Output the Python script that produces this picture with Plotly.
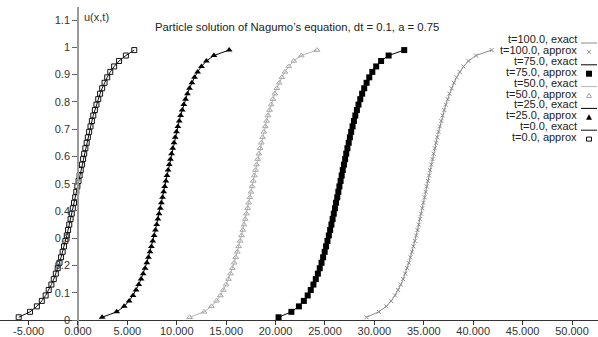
import plotly.graph_objects as go

# ---------------- data ----------------
u_levels = [0.01, 0.03, 0.05, 0.07, 0.09, 0.11, 0.13, 0.15, 0.17, 0.19,
            0.21, 0.23, 0.25, 0.27, 0.29, 0.31, 0.33, 0.35, 0.37, 0.39,
            0.41, 0.43, 0.45, 0.47, 0.49, 0.51, 0.53, 0.55, 0.57, 0.59,
            0.61, 0.63, 0.65, 0.67, 0.69, 0.71, 0.73, 0.75, 0.77, 0.79,
            0.81, 0.83, 0.85, 0.87, 0.89, 0.91, 0.93, 0.95, 0.97, 0.99]

x_t0 = [-6.00, -4.85, -4.16, -3.66, -3.27, -2.96, -2.69, -2.45, -2.24, -2.05,
        -1.87, -1.71, -1.55, -1.41, -1.27, -1.13, -1.00, -0.88, -0.75, -0.63,
        -0.52, -0.40, -0.28, -0.17, -0.06, 0.06, 0.17, 0.28, 0.40, 0.52,
        0.63, 0.75, 0.88, 1.00, 1.13, 1.27, 1.41, 1.55, 1.71, 1.87,
        2.05, 2.24, 2.45, 2.69, 2.96, 3.27, 3.66, 4.16, 4.85, 5.70]

x_t25 = [2.45, 3.92, 4.68, 5.18, 5.57, 5.88, 6.15, 6.39, 6.60, 6.79,
         6.97, 7.13, 7.29, 7.43, 7.57, 7.71, 7.84, 7.97, 8.09, 8.21,
         8.33, 8.44, 8.56, 8.67, 8.78, 8.90, 9.01, 9.12, 9.24, 9.36,
         9.47, 9.59, 9.72, 9.84, 9.97, 10.11, 10.25, 10.39, 10.55, 10.71,
         10.89, 11.08, 11.29, 11.53, 11.80, 12.11, 12.50, 13.00, 13.76, 15.30]

x_t50 = [11.30, 12.76, 13.52, 14.02, 14.41, 14.72, 14.99, 15.23, 15.44, 15.63,
         15.81, 15.97, 16.13, 16.27, 16.41, 16.55, 16.68, 16.81, 16.93, 17.05,
         17.17, 17.28, 17.40, 17.51, 17.62, 17.74, 17.85, 17.96, 18.08, 18.20,
         18.31, 18.43, 18.56, 18.68, 18.81, 18.95, 19.09, 19.23, 19.39, 19.55,
         19.73, 19.92, 20.13, 20.37, 20.64, 20.95, 21.34, 21.84, 22.60, 24.18]

x_t75 = [20.30, 21.60, 22.36, 22.86, 23.25, 23.56, 23.83, 24.07, 24.28, 24.47,
         24.65, 24.81, 24.97, 25.11, 25.25, 25.39, 25.52, 25.65, 25.77, 25.89,
         26.01, 26.12, 26.24, 26.35, 26.46, 26.58, 26.69, 26.80, 26.92, 27.04,
         27.15, 27.27, 27.40, 27.52, 27.65, 27.79, 27.93, 28.07, 28.23, 28.39,
         28.57, 28.76, 28.97, 29.21, 29.48, 29.79, 30.18, 30.68, 31.44, 33.02]

x_t100 = [29.20, 30.44, 31.20, 31.70, 32.09, 32.40, 32.67, 32.91, 33.12, 33.31,
          33.49, 33.65, 33.81, 33.95, 34.09, 34.23, 34.36, 34.49, 34.61, 34.73,
          34.85, 34.96, 35.08, 35.19, 35.30, 35.42, 35.53, 35.64, 35.76, 35.88,
          35.99, 36.11, 36.24, 36.36, 36.49, 36.63, 36.77, 36.91, 37.07, 37.23,
          37.41, 37.60, 37.81, 38.05, 38.32, 38.63, 39.02, 39.52, 40.28, 41.86]

x_tickvals = [-5, 0, 5, 10, 15, 20, 25, 30, 35, 40, 45, 50]
x_ticktext = ["-5.000", "0.000", "5.000", "10.000", "15.000", "20.000",
              "25.000", "30.000", "35.000", "40.000", "45.000", "50.000"]
y_tickvals = [0, 0.1, 0.2, 0.3, 0.4, 0.5, 0.6, 0.7, 0.8, 0.9, 1.0, 1.1]
y_ticktext = ["0", "0.1", "0.2", "0.3", "0.4", "0.5", "0.6", "0.7", "0.8", "0.9", "1", "1.1"]

legend_labels = ["t=100.0, exact", "t=100.0, approx", "t=75.0, exact", "t=75.0, approx",
                 "t=50.0, exact", "t=50.0, approx", "t=25.0, exact", "t=25.0, approx",
                 "t=0.0, exact", "t=0.0, approx"]

# ---------------- styles ----------------
W, H = 598, 337
MT, MB = 7, 5
PH = H - MT - MB
FONT = "Liberation Sans, Arial, sans-serif"

series = [
    # (x, line colour, marker symbol, marker size, marker colour, marker line width)
    (x_t100, "#8c8c8c", "x-thin", 4, "#8c8c8c", 1),
    (x_t75, "#000000", "square", 6, "#000000", 0),
    (x_t50, "#b4b4b4", "triangle-up-open", 5, "#a8a8a8", 1),
    (x_t25, "#000000", "triangle-up", 6, "#000000", 0),
    (x_t0, "#111111", "square-open", 5, "#111111", 1),
]

fig = go.Figure()
for xs, lc, sym, sz, mc, mlw in series:
    fig.add_trace(go.Scatter(x=xs, y=u_levels, mode="lines",
                             line=dict(color=lc, width=1), showlegend=False,
                             hoverinfo="skip"))
for xs, lc, sym, sz, mc, mlw in series:
    fig.add_trace(go.Scatter(x=xs, y=u_levels, mode="markers",
                             marker=dict(symbol=sym, size=sz, color=mc,
                                         line=dict(color=mc, width=mlw)),
                             showlegend=False))

y_lo, y_hi = -0.044, 1.148
x_lo, x_hi = -7.89, 52.63

xaxis_cfg = dict(range=[x_lo, x_hi], anchor="free",
                 position=(0 - y_lo) / (y_hi - y_lo),
                 showgrid=False, zeroline=False, showline=True,
                 linecolor="#333333", linewidth=1,
                 ticks="outside", ticklen=4, tickcolor="#333333",
                 tickvals=x_tickvals, ticktext=x_ticktext,
                 tickfont=dict(size=11, color="#333333"), automargin=False)

fig.update_layout(
    width=W, height=H,
    margin=dict(l=0, r=0, t=MT, b=MB, pad=0),
    paper_bgcolor="white", plot_bgcolor="white",
    font=dict(family=FONT, size=11, color="#333333"),
    showlegend=False,
    xaxis=xaxis_cfg,
    yaxis=dict(range=[y_lo, y_hi], anchor="free",
               position=(0 - x_lo) / (x_hi - x_lo),
               showgrid=False, zeroline=False, showline=True,
               linecolor="#9a9a9a", linewidth=1.5,
               ticks="outside", ticklen=5, tickcolor="#666666",
               tickvals=y_tickvals, ticktext=y_ticktext,
               tickfont=dict(size=11, color="#333333"), automargin=False),
)
try:
    fig.update_xaxes(ticklabelstandoff=-3)
except Exception:
    pass

def px(x):
    return x / W

def py(y):
    return (H - MB - y) / PH

annotations = [
    dict(text="Particle solution of Nagumo\u2019s equation, dt = 0.1, a = 0.75",
         x=px(297), y=py(27), xref="paper", yref="paper", showarrow=False,
         xanchor="center", yanchor="middle", font=dict(size=11.3, color="#222222")),
    dict(text="u(x,t)", x=px(82), y=py(17), xref="paper", yref="paper",
         showarrow=False, xanchor="left", yanchor="middle",
         font=dict(size=11, color="#333333")),
]

row_y = [39 + 10.9 * i for i in range(len(legend_labels))]
for lab, ry in zip(legend_labels, row_y):
    annotations.append(dict(text=lab, x=px(579), y=py(ry), xref="paper", yref="paper",
                            showarrow=False, xanchor="right", yanchor="middle",
                            font=dict(size=11, color="#222222")))
fig.update_layout(annotations=annotations)

shapes = []
key_x = 589
for i, (xs, lc, sym, sz, mc, mlw) in enumerate(series):
    ly = row_y[2 * i] + 4
    shapes.append(dict(type="line", xref="paper", yref="paper",
                       x0=px(581), x1=px(597), y0=py(ly), y1=py(ly),
                       line=dict(color=lc, width=1)))
    my = row_y[2 * i + 1] + 2
    common = dict(xref="paper", yref="paper", xsizemode="pixel", ysizemode="pixel",
                  xanchor=px(key_x), yanchor=py(my))
    if sym == "x-thin":
        shapes.append(dict(type="path", path="M-2,-2L2,2M-2,2L2,-2",
                           line=dict(color=mc, width=1), **common))
    elif sym == "square":
        shapes.append(dict(type="rect", x0=-3, x1=3, y0=-3, y1=3,
                           fillcolor=mc, line=dict(color=mc, width=0), **common))
    elif sym == "square-open":
        shapes.append(dict(type="rect", x0=-2.5, x1=2.5, y0=-2, y1=2,
                           fillcolor="white", line=dict(color=mc, width=1), **common))
    elif sym == "triangle-up":
        shapes.append(dict(type="path", path="M-3,-2.5L3,-2.5L0,3Z",
                           fillcolor=mc, line=dict(color=mc, width=0), **common))
    elif sym == "triangle-up-open":
        shapes.append(dict(type="path", path="M-2.5,-2L2.5,-2L0,2.5Z",
                           fillcolor="white", line=dict(color=mc, width=1), **common))
fig.update_layout(shapes=shapes)

fig.write_html("out.html", config={"displayModeBar": False},
               post_script="document.body.style.margin='0';document.body.style.overflow='hidden';")
